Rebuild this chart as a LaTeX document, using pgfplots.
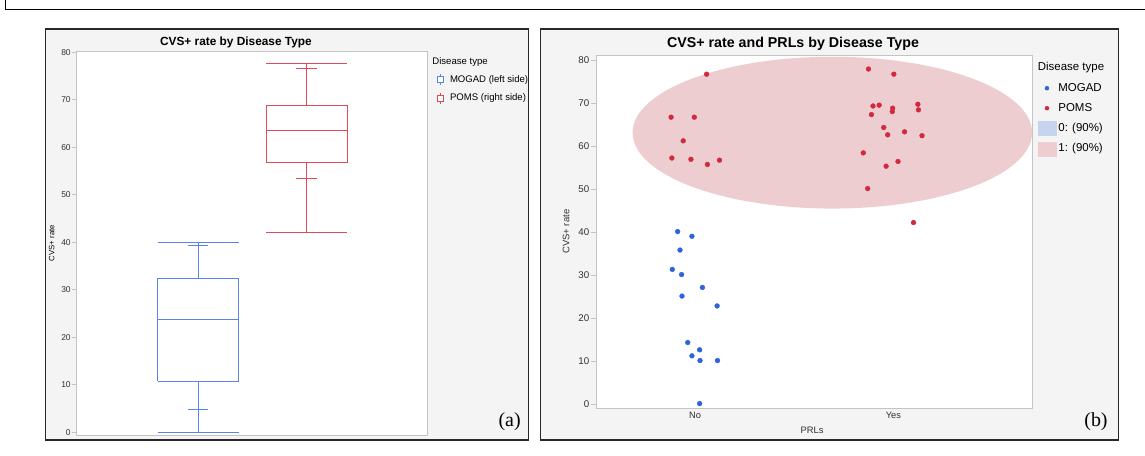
\documentclass[border=0pt]{standalone}
\usepackage{fontspec}
\setmainfont{Liberation Sans}
\newfontfamily\seriffont{Liberation Serif}
\usepackage{pgfplots}
\pgfplotsset{compat=1.18}

\definecolor{panelbg}{RGB}{244,244,244}
\definecolor{frameline}{RGB}{40,40,40}
\definecolor{axisgrey}{RGB}{196,196,196}
\definecolor{ticktext}{RGB}{50,50,50}
\definecolor{mogadbox}{RGB}{88,134,232}
\definecolor{pomsbox}{RGB}{222,74,88}
\definecolor{mogaddot}{RGB}{45,100,220}
\definecolor{pomsdot}{RGB}{208,42,60}
\definecolor{ellone}{RGB}{237,205,208}
\definecolor{ellzero}{RGB}{198,212,238}

\pgfplotsset{
  jmp/.style={
    scale only axis,
    axis background/.style={fill=white},
    axis line style={axisgrey, line width=0.9bp},
    tick align=outside,
    ytick pos=left,
    y tick style={axisgrey, line width=0.7bp},
    /pgf/number format/assume math mode=true,
    legend cell align=left,
  },
}

\begin{document}
\begin{tikzpicture}
\path[use as bounding box] (0bp,0bp) rectangle (1145bp,456bp);
% outer figure frame
\draw[black, line width=0.9bp] (5.2bp,456bp) -- (5.2bp,447bp) -- (1145bp,447bp);
% panel backgrounds
\draw[frameline, fill=panelbg, line width=1.3bp] (45.8bp,16bp) rectangle (528.6bp,427bp);
\draw[frameline, fill=panelbg, line width=1.3bp] (540.5bp,16bp) rectangle (1118.7bp,427bp);

% ---------------- (a) box plots
\begin{axis}[jmp,
  width=351.3bp, height=383.7bp,
  at={(76.4bp,21bp)}, anchor=south west,
  xmin=-0.118, xmax=3.111, ymin=-0.57, ymax=80.2,
  xtick=\empty, ytick={0,10,...,80},
  major tick length=4.5bp,
  yticklabel style={font=\fontsize{8.5}{10}\selectfont, text=ticktext, inner sep=1bp},
  ylabel={CVS+ rate},
  ylabel style={font=\fontsize{7.8}{9}\selectfont, at={(axis description cs:-0.0703,0.5)}, anchor=center},
  legend style={draw=none, fill=none, inner sep=0pt, row sep=7bp,
    at={(axis description cs:1.0262,0.942)}, anchor=north west,
    font=\fontsize{9.6}{11}\selectfont,
    nodes={inner sep=0pt, text height=7bp, text depth=2bp}},
  every axis plot/.append style={forget plot, line width=0.9bp},
]
% MOGAD: box, median, whiskers, end lines and inner caps
\addplot[mogadbox] coordinates {(0.628,10.8) (1.372,10.8) (1.372,32.3) (0.628,32.3) (0.628,10.8)};
\addplot[mogadbox] coordinates {(0.628,23.8) (1.372,23.8)};
\addplot[mogadbox] coordinates {(1,32.3) (1,40)};
\addplot[mogadbox] coordinates {(1,10.8) (1,0)};
\addplot[mogadbox] coordinates {(0.628,40) (1.372,40)};
\addplot[mogadbox] coordinates {(0.628,0) (1.372,0)};
\addplot[mogadbox] coordinates {(0.905,39.3) (1.095,39.3)};
\addplot[mogadbox] coordinates {(0.905,4.9) (1.095,4.9)};
% POMS
\addplot[pomsbox] coordinates {(1.628,56.7) (2.372,56.7) (2.372,68.8) (1.628,68.8) (1.628,56.7)};
\addplot[pomsbox] coordinates {(1.628,63.5) (2.372,63.5)};
\addplot[pomsbox] coordinates {(2,68.8) (2,77.7)};
\addplot[pomsbox] coordinates {(2,56.7) (2,42.0)};
\addplot[pomsbox] coordinates {(1.628,77.7) (2.372,77.7)};
\addplot[pomsbox] coordinates {(1.628,42.0) (2.372,42.0)};
\addplot[pomsbox] coordinates {(1.905,76.6) (2.095,76.6)};
\addplot[pomsbox] coordinates {(1.905,53.5) (2.095,53.5)};

\addlegendimage{legend image code/.code={
  \draw[mogadbox, line width=0.8bp] (0bp,-5.5bp) -- (0bp,5.5bp);
  \draw[mogadbox, line width=0.8bp, fill=white] (-2.8bp,-3bp) rectangle (2.8bp,3bp);
  \path[draw=none, fill=none, use as bounding box] (-2.8bp,-5bp) rectangle (9.7bp,5bp);}}
\addlegendentry{MOGAD (left side)}
\addlegendimage{legend image code/.code={
  \draw[pomsbox, line width=0.8bp] (0bp,-5.5bp) -- (0bp,5.5bp);
  \draw[pomsbox, line width=0.8bp, fill=white] (-2.8bp,-3bp) rectangle (2.8bp,3bp);
  \path[draw=none, fill=none, use as bounding box] (-2.8bp,-5bp) rectangle (9.7bp,5bp);}}
\addlegendentry{POMS (right side)}
\end{axis}

% ---------------- (b) scatter with density ellipse
\begin{axis}[jmp,
  width=436bp, height=353.3bp,
  at={(596.7bp,47.7bp)}, anchor=south west,
  xmin=-0.496, xmax=1.702, ymin=-1.0, ymax=81.16,
  xtick={0,1}, xticklabels={No,Yes},
  x tick style={draw=none},
  ytick={0,10,...,80},
  major tick length=6bp,
  yticklabel style={font=\fontsize{9.8}{11}\selectfont, text=ticktext, inner sep=1.2bp},
  xticklabel style={font=\fontsize{9.3}{11}\selectfont, text=ticktext, inner sep=0pt, anchor=north, yshift=2bp},
  xlabel={PRLs},
  xlabel style={font=\fontsize{9.4}{11}\selectfont, text=ticktext, at={(axis description cs:0.494,-0.0614)}, anchor=center},
  ylabel={CVS+ rate},
  ylabel style={font=\fontsize{9.5}{11}\selectfont, text=ticktext, at={(axis description cs:-0.0704,0.5)}, anchor=center},
  legend style={draw=none, fill=none, inner sep=0pt, row sep=6bp,
    at={(axis description cs:1.0115,0.9264)}, anchor=north west,
    font=\fontsize{11.5}{13}\selectfont,
    nodes={inner sep=0pt, text height=8.5bp, text depth=2.5bp}},
]
\fill[ellone] (axis cs:0.692,63.1) ellipse [x radius=1.007, y radius=17.65];

\addplot[forget plot, only marks, mark=*, mark size=2.4bp, mogaddot] coordinates {
(-0.088,40.1) (-0.016,39.0) (-0.076,35.8) (-0.115,31.3) (-0.068,30.1)
(0.037,27.1) (-0.066,25.1) (0.111,22.8) (-0.037,14.3) (0.023,12.6)
(-0.016,11.2) (0.025,10.1) (0.113,10.1) (0.023,0.1)};

\addplot[forget plot, only marks, mark=*, mark size=2.4bp, pomsdot] coordinates {
(0.058,76.7) (-0.121,66.7) (-0.004,66.7) (-0.060,61.2) (-0.117,57.2)
(-0.021,56.9) (0.062,55.7) (0.123,56.7)
(0.874,77.9) (1.002,76.7) (0.897,69.3) (0.928,69.5) (0.889,67.3)
(0.996,68.8) (0.994,68.0) (1.123,69.7) (1.126,68.4) (0.951,64.3)
(0.971,62.6) (1.056,63.3) (1.144,62.4) (0.848,58.4) (0.963,55.3)
(1.023,56.4) (0.870,50.1) (1.101,42.2)};

\addlegendimage{legend image code/.code={
  \fill[mogaddot] (0bp,0bp) circle (2bp);
  \path[draw=none, fill=none, use as bounding box] (-8.85bp,-7bp) rectangle (11.45bp,7bp);}}
\addlegendentry{MOGAD}
\addlegendimage{legend image code/.code={
  \fill[pomsdot] (0bp,0bp) circle (2bp);
  \path[draw=none, fill=none, use as bounding box] (-8.85bp,-7bp) rectangle (11.45bp,7bp);}}
\addlegendentry{POMS}
\addlegendimage{legend image code/.code={
  \fill[ellzero] (-8.85bp,-7bp) rectangle (8.85bp,7bp);
  \path[draw=none, fill=none, use as bounding box] (-8.85bp,-7bp) rectangle (11.45bp,7bp);}}
\addlegendentry{0: (90\%)}
\addlegendimage{legend image code/.code={
  \fill[ellone] (-8.85bp,-7bp) rectangle (8.85bp,7bp);
  \path[draw=none, fill=none, use as bounding box] (-8.85bp,-7bp) rectangle (11.45bp,7bp);}}
\addlegendentry{1: (90\%)}
\end{axis}

% titles, legend headings, panel letters
\node[font=\bfseries\fontsize{11.9}{14}\selectfont] at (235.9bp,414bp) {CVS+ rate by Disease Type};
\node[font=\bfseries\fontsize{14.3}{17}\selectfont] at (793bp,412bp) {CVS+ rate and PRLs by Disease Type};
\node[font=\fontsize{9.6}{11}\selectfont, anchor=west, inner sep=0pt] at (432.2bp,394bp) {Disease type};
\node[font=\fontsize{11.5}{13}\selectfont, anchor=west, inner sep=0pt] at (1037.7bp,388bp) {Disease type};
\node[font=\seriffont\fontsize{20}{24}\selectfont] at (509.6bp,34.3bp) {(a)};
\node[font=\seriffont\fontsize{20}{24}\selectfont] at (1096bp,34.3bp) {(b)};
\end{tikzpicture}
\end{document}
